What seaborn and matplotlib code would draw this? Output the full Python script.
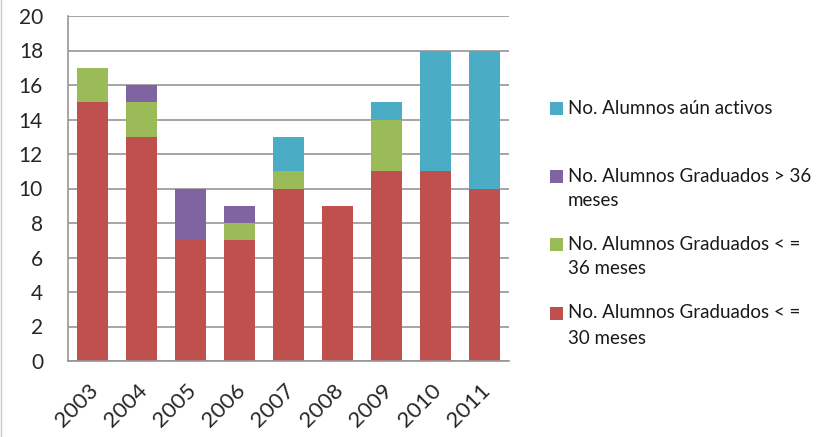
import seaborn as sns
import matplotlib.pyplot as plt
import matplotlib.transforms as mtransforms
from matplotlib.patches import Rectangle
from matplotlib.lines import Line2D
import numpy as np
import pandas as pd

# %% data
years = ['2003', '2004', '2005', '2006', '2007', '2008', '2009', '2010', '2011']
grad_30 = [15, 13, 7, 7, 10, 9, 11, 11, 10]   # <= 30 meses
grad_36 = [2, 2, 0, 1, 1, 0, 3, 0, 0]         # <= 36 meses
grad_gt36 = [0, 1, 3, 1, 0, 0, 0, 0, 0]       # > 36 meses
activos = [0, 0, 0, 0, 2, 0, 1, 7, 8]         # aún activos

labels = ['No. Alumnos Graduados < =\n30 meses',
          'No. Alumnos Graduados < =\n36 meses',
          'No. Alumnos Graduados > 36\nmeses',
          'No. Alumnos aún activos']
colors = ['#C0504D', '#9BBB59', '#8064A2', '#4BACC6']

df = pd.DataFrame({'year': years, 'g30': grad_30, 'g36': grad_36,
                   'gt36': grad_gt36, 'act': activos})
layers = ['g30', 'g36', 'gt36', 'act']
cum = df[layers].cumsum(axis=1)

# %% plot
sns.set_style("white")
plt.rcParams['font.family'] = ['Lato', 'DejaVu Sans']

W, H = 833, 437
fig = plt.figure(figsize=(W / 100, H / 100), dpi=100)
ax = fig.add_axes([68 / W, 1 - 361 / H, 441 / W, 345 / H])

# draw tallest stack first, then overlay lower ones
for col, c in reversed(list(zip(layers, colors))):
    sns.barplot(x=df['year'], y=cum[col], color=c, ax=ax, width=0.64,
                saturation=1, linewidth=0)

ax.set_ylim(0, 20)
ax.set_xlim(-0.5, 8.5)
ax.set_yticks(range(0, 21, 2))
ax.yaxis.grid(True, color='#969696', linewidth=1.2)
ax.set_axisbelow(True)
ax.set_xlabel('')
ax.set_ylabel('')
for s in ['top', 'right']:
    ax.spines[s].set_visible(False)
for s in ['left', 'bottom']:
    ax.spines[s].set_color('#969696')
    ax.spines[s].set_linewidth(1.2)
ax.tick_params(axis='y', labelsize=15, length=0, pad=18)
ax.tick_params(axis='x', labelsize=16, length=0, pad=14)
shift = mtransforms.ScaledTranslation(-3 / 72, 0, fig.dpi_scale_trans)
for lab in ax.get_xticklabels():
    lab.set_rotation(45)
    lab.set_ha('right')
    lab.set_va('top')
    lab.set_rotation_mode('anchor')
    lab.set_transform(lab.get_transform() + shift)

# legend drawn by hand to match spacing: first-line centres in pixels
line_y = [108, 176, 244, 313]
for lab, c, yc in zip(labels[::-1], colors[::-1], line_y):
    fig.add_artist(Rectangle((550 / W, 1 - (yc + 6.5) / H), 13 / W, 13 / H,
                             facecolor=c, edgecolor='none',
                             transform=fig.transFigure))
    for k, line in enumerate(lab.split('\n')):
        fig.text(568 / W, 1 - (yc + 25 * k) / H, line, fontsize=13.5,
                 va='center', ha='left', color='#1a1a1a')

# thin border line on the left edge of the chart area
fig.add_artist(Line2D([0.0015, 0.0015], [0, 1], color='#c8c8c8', linewidth=1))

fig.savefig('out.png', dpi=100)
